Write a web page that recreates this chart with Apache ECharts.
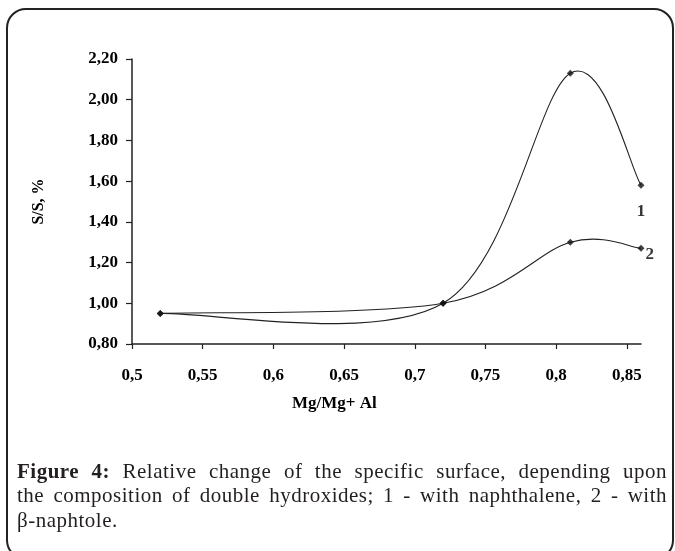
<!DOCTYPE html>
<html>
<head>
<meta charset="utf-8">
<script src="https://cdn.jsdelivr.net/npm/echarts@6/dist/echarts.min.js"></script>
<style>
  html, body { margin: 0; padding: 0; background: #fff; }
  #wrap { position: relative; width: 675px; height: 551px; overflow: hidden; }
  #frame { position: absolute; left: 6px; top: 8px; width: 668px; height: 552px; box-sizing: border-box;
           border: 2.5px solid #222; border-radius: 20px; }
  #chart { position: absolute; left: 0; top: 0; width: 675px; height: 551px; }
  #caption { position: absolute; left: 17px; top: 458.5px; width: 650px;
             font-family: "Liberation Serif", "Times New Roman", serif; font-size: 21px; line-height: 24.5px;
             letter-spacing: 0.5px; color: #231f20; }
  #caption .j { text-align: justify; text-align-last: justify; }
  #caption .l { text-align: left; }
</style>
</head>
<body>
<div id="wrap">
  <div id="frame"></div>
  <div id="chart"></div>
  <div id="caption">
    <div class="j"><b>Figure 4:</b> Relative change of the specific surface, depending upon</div>
    <div class="j">the composition of double hydroxides; 1 - with naphthalene, 2 - with</div>
    <div class="l">β-naphtole.</div>
  </div>
</div>
<script>
// ---- data ----
const xValues = [0.52, 0.72, 0.81, 0.86];
const naphthalene = [0.95, 1.00, 2.13, 1.58];   // curve 1
const naphtole = [0.95, 1.00, 1.30, 1.27];      // curve 2
const xTickValues = [0.5, 0.55, 0.6, 0.65, 0.7, 0.75, 0.8, 0.85];
const seriesLabels = ['1', '2'];
const xAxisTitle = 'Mg/Mg+ Al';
const yAxisTitle = 'S/S, %';

const FONT = '"Liberation Serif", "Times New Roman", serif';

function buildData(vals, labelOpt) {
  return xValues.map(function (x, i) {
    if (i === xValues.length - 1) {
      return { value: [x, vals[i]], label: labelOpt };
    }
    return [x, vals[i]];
  });
}

// Spreadsheet-style smoothed curve (Bezier, tangents = (next - prev) / 6), computed in pixel space
function smoothCurve(vals) {
  return function (params, api) {
    if (params.dataIndex !== 0) return null;
    const p = xValues.map(function (x, i) { return api.coord([x, vals[i]]); });
    const n = p.length;
    let d = 'M' + p[0][0] + ' ' + p[0][1];
    for (let i = 0; i < n - 1; i++) {
      const p0 = p[Math.max(i - 1, 0)], p1 = p[i], p2 = p[i + 1], p3 = p[Math.min(i + 2, n - 1)];
      const c1 = [p1[0] + (p2[0] - p0[0]) / 6, p1[1] + (p2[1] - p0[1]) / 6];
      const c2 = [p2[0] - (p3[0] - p1[0]) / 6, p2[1] - (p3[1] - p1[1]) / 6];
      d += ' C' + c1[0] + ' ' + c1[1] + ' ' + c2[0] + ' ' + c2[1] + ' ' + p2[0] + ' ' + p2[1];
    }
    return {
      type: 'path',
      shape: { pathData: d },
      style: { fill: 'none', stroke: '#222', lineWidth: 1.1 },
      silent: true
    };
  };
}

const labelBase = { show: true, color: '#000', fontFamily: FONT, fontWeight: 'bold', fontSize: 17 };

const chart = echarts.init(document.getElementById('chart'), null, { renderer: 'canvas' });
chart.setOption({
  animation: false,
  title: {
    text: xAxisTitle,
    left: 292, top: 395, padding: 0,
    textStyle: { fontFamily: FONT, fontWeight: 'bold', fontSize: 17, color: '#000' }
  },
  grid: { left: 132, right: 34, top: 59, bottom: 207, outerBoundsMode: 'none' },
  xAxis: {
    type: 'value', min: 0.5, max: 0.86, interval: 0.05,
    splitLine: { show: false },
    axisLine: { show: true, lineStyle: { color: '#222', width: 1.5 } },
    axisTick: { show: true, inside: false, length: 5, customValues: xTickValues, lineStyle: { color: '#222', width: 1.2 } },
    axisLabel: {
      customValues: xTickValues, margin: 23,
      fontFamily: FONT, fontWeight: 'bold', fontSize: 17, color: '#000',
      formatter: function (v) { return String(+v.toFixed(2)).replace('.', ','); }
    }
  },
  yAxis: {
    type: 'value', min: 0.8, max: 2.2, interval: 0.2,
    name: yAxisTitle, nameLocation: 'middle', nameGap: 85,
    nameTextStyle: { fontFamily: FONT, fontWeight: 'bold', fontSize: 16, color: '#000' },
    splitLine: { show: false },
    axisLine: { show: true, lineStyle: { color: '#222', width: 1.5 } },
    axisTick: { show: true, inside: false, length: 6, lineStyle: { color: '#222', width: 1.2 } },
    axisLabel: {
      margin: 14, fontFamily: FONT, fontWeight: 'bold', fontSize: 17, color: '#000',
      formatter: function (v) { return v.toFixed(2).replace('.', ','); }
    }
  },
  series: [
    {
      type: 'custom', name: seriesLabels[0] + ' curve',
      data: xValues.map(function (x, i) { return [x, naphthalene[i]]; }),
      renderItem: smoothCurve(naphthalene), z: 2
    },
    {
      type: 'custom', name: seriesLabels[1] + ' curve',
      data: xValues.map(function (x, i) { return [x, naphtole[i]]; }),
      renderItem: smoothCurve(naphtole), z: 2
    },
    {
      type: 'scatter', name: seriesLabels[0], z: 3,
      data: buildData(naphthalene, Object.assign({}, labelBase, { position: 'bottom', distance: 14, formatter: seriesLabels[0] })),
      symbol: 'diamond', symbolSize: 7,
      itemStyle: { color: '#111' },
      label: { show: false }
    },
    {
      type: 'scatter', name: seriesLabels[1], z: 3,
      data: buildData(naphtole, Object.assign({}, labelBase, { position: 'right', distance: 1, offset: [0, 6], formatter: seriesLabels[1] })),
      symbol: 'diamond', symbolSize: 7,
      itemStyle: { color: '#111' },
      label: { show: false }
    }
  ]
});
</script>
</body>
</html>
